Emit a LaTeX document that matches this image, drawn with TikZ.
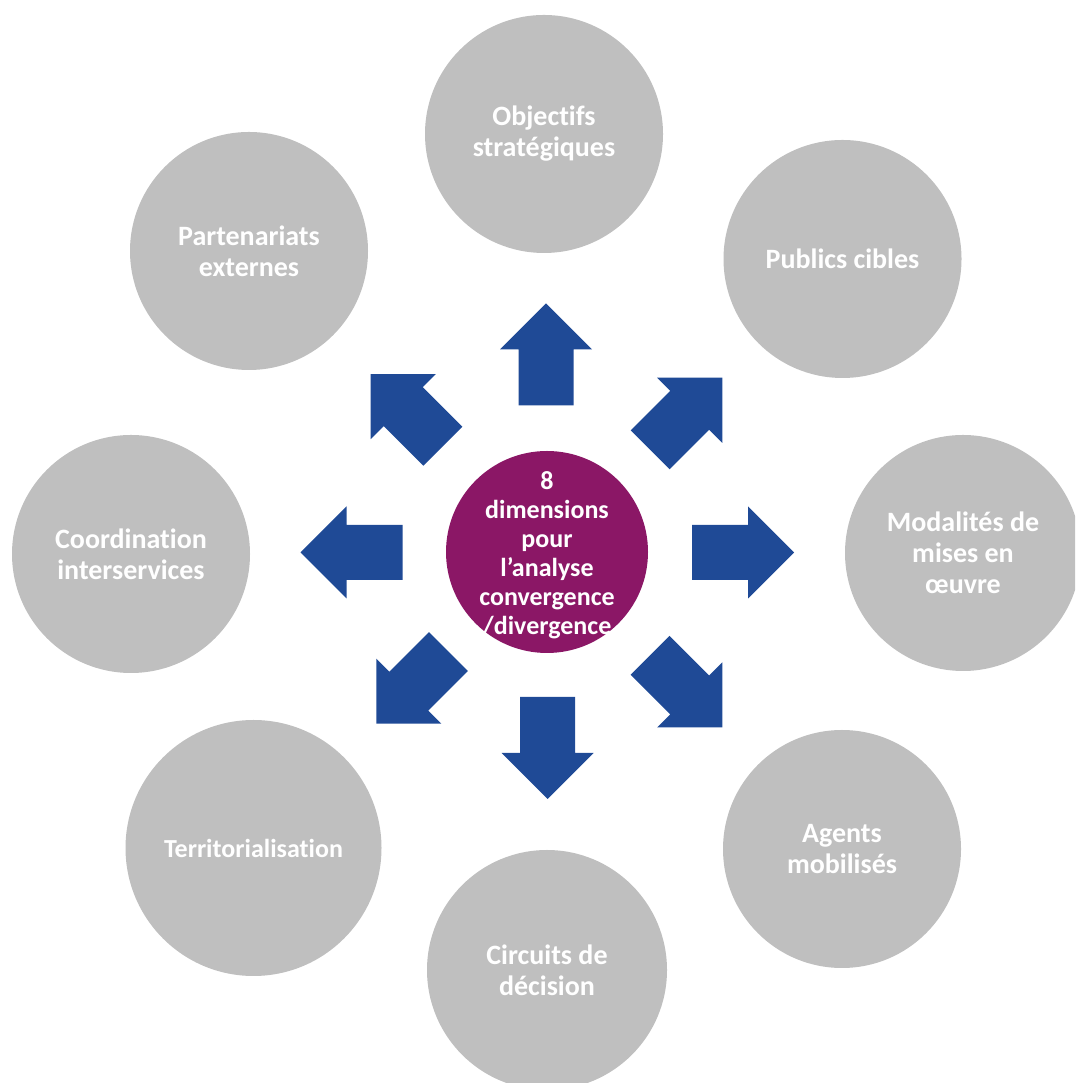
\documentclass[tikz,border=0pt]{standalone}
\usepackage{fontspec}
\setmainfont{Carlito}[Ligatures=NoCommon]
\definecolor{circgray}{HTML}{BFBFBF}
\definecolor{arrowblue}{HTML}{1F4A96}
\definecolor{centerpurple}{HTML}{8B1766}
\tikzset{
  dim/.style={circle, fill=circgray, inner sep=0pt, text=white, align=center,
    font=\fontsize{28}{31}\selectfont\bfseries},
  hub/.style={circle, fill=centerpurple, inner sep=0pt, minimum size=202pt},
  hubtext/.style={inner sep=0pt, text=white, align=center,
    font=\fontsize{26}{29}\selectfont\bfseries},
  blockarrow/.pic={
    \fill[arrowblue] (-51,-27.5) -- (5,-27.5) -- (5,-46) -- (51,0) -- (5,46) -- (5,27.5) -- (-51,27.5) -- cycle;
  }
}
\begin{document}
\begin{tikzpicture}[x=1pt,y=1pt]
\useasboundingbox (0,0) rectangle (1075,1083);
\clip (0,0) rectangle (1075,1083);
% surrounding dimensions
\node[dim, minimum size=238pt] (obj) at (544,949) {Objectifs\\strat\'egiques};
\node[dim, minimum size=238pt] (pub) at (842.5,824) {Publics cibles};
\node[dim, minimum size=236pt] (mod) at (963,530) {Modalit\'es de\\mises en\\\oe uvre};
\node[dim, minimum size=238pt] (age) at (842,234) {Agents\\mobilis\'es};
\node[dim, minimum size=240pt] (cir) at (547,113) {Circuits de\\d\'ecision};
\node[dim, minimum size=256pt, font=\fontsize{26}{30}\selectfont\bfseries] (ter) at (253.5,235) {Territorialisation};
\node[dim, minimum size=238pt] (coo) at (131,529) {Coordination\\interservices};
\node[dim, minimum size=238pt] (par) at (249,832) {Partenariats\\externes};
% centre
\node[hub] (hub) at (547,531) {};
\node[hubtext] (hubtext) at (547,528) {8\\dimensions\\pour\\l\textquoteright analyse\\convergence\\/divergence};
% block arrows
\pic[rotate=90]  at (546,728.5)   {blockarrow};
\pic[rotate=-90] at (547.5,335)   {blockarrow};
\pic[rotate=180] at (351.5,530.5) {blockarrow};
\pic[rotate=0]   at (743,530.5)   {blockarrow};
\pic[rotate=135] at (406.8,672.8) {blockarrow};
\pic[rotate=45]  at (686.2,669.2) {blockarrow};
\pic[rotate=225] at (412.4,395.4) {blockarrow};
\pic[rotate=-45] at (686.2,391.6) {blockarrow};
\end{tikzpicture}
\end{document}
